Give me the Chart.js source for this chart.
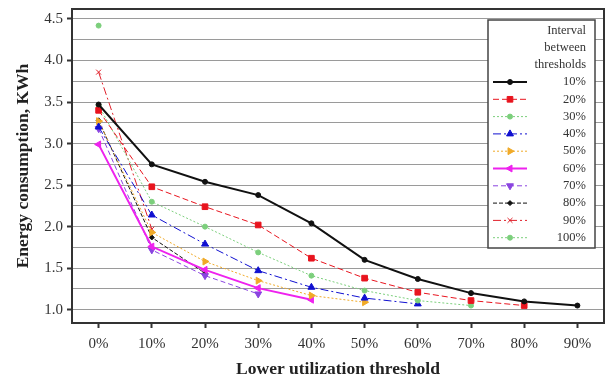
<!DOCTYPE html>
<html>
<head>
<meta charset="utf-8">
<script src="https://cdn.jsdelivr.net/npm/chart.js@4/dist/chart.umd.min.js"></script>
<style>
  body { margin: 0; background: #fff; }
  #wrap { width: 605px; height: 380px; }
</style>
</head>
<body>
<div id="wrap"><canvas id="energy-chart" width="605" height="380"></canvas></div>
<script>
var thresholds = ['0%', '10%', '20%', '30%', '40%', '50%', '60%', '70%', '80%', '90%'];
var intervals = ['10%', '20%', '30%', '40%', '50%', '60%', '70%', '80%', '90%', '100%'];

var int10  = [3.47, 2.75, 2.54, 2.38, 2.04, 1.60, 1.37, 1.20, 1.10, 1.05];
var int20  = [3.40, 2.48, 2.24, 2.02, 1.62, 1.38, 1.21, 1.11, 1.05];
var int30  = [3.46, 2.30, 2.00, 1.69, 1.41, 1.23, 1.11, 1.05];
var int40  = [3.20, 2.14, 1.79, 1.47, 1.27, 1.14, 1.07];
var int50  = [3.27, 1.93, 1.58, 1.35, 1.17, 1.09];
var int60  = [2.99, 1.76, 1.48, 1.26, 1.12];
var int70  = [3.18, 1.72, 1.41, 1.19];
var int80  = [3.28, 1.87, 1.44];
var int90  = [3.86, 1.97];
var int100 = [4.42];

var yGrid = [1.0, 1.25, 1.5, 1.75, 2.0, 2.25, 2.5, 2.75, 3.0, 3.25, 3.5, 3.75, 4.0, 4.25, 4.5];
var yLabelled = [1.0, 1.5, 2.0, 2.5, 3.0, 3.5, 4.0, 4.5];

var serif = "'Liberation Serif', 'DejaVu Serif', serif";

function series(label, data, color, dash, width, style, radius, rotation) {
    return {
        label: label,
        data: data,
        borderColor: color,
        backgroundColor: color,
        borderDash: dash,
        borderWidth: width,
        pointStyle: style,
        pointRadius: radius,
        pointRotation: rotation || 0,
        pointBorderWidth: 1,
        tension: 0,
        fill: false
    };
}

var datasets = [
    series(intervals[0], int10, '#111111', [], 2, 'circle', 2.5),
    series(intervals[1], int20, '#e8141e', [6, 3], 1, 'rect', 4),
    series(intervals[2], int30, '#7ccf7c', [2, 2], 1, 'circle', 2.5),
    series(intervals[3], int40, '#1010d0', [8, 3, 2, 3], 1, 'triangle', 4),
    series(intervals[4], int50, '#f0aa28', [2, 2], 1, 'triangle', 4, 90),
    series(intervals[5], int60, '#ee22ee', [], 2, 'triangle', 4, -90),
    series(intervals[6], int70, '#8a44e0', [5, 3], 1, 'triangle', 4, 180),
    series(intervals[7], int80, '#111111', [4, 2], 1, 'rectRot', 2.5),
    series(intervals[8], int90, '#e0202a', [8, 3, 2, 3], 1, 'crossRot', 3.5),
    series(intervals[9], int100, '#7ccf7c', [2, 2], 1, 'circle', 2.5)
];

var frame = {
    id: 'frame',
    afterDatasetsDraw: function(chart) {
        var ctx = chart.ctx, a = chart.chartArea;
        ctx.save();
        ctx.strokeStyle = '#333';
        ctx.lineWidth = 2;
        ctx.strokeRect(a.left, a.top, a.right - a.left, a.bottom - a.top);
        ctx.restore();
    }
};

var legendBox = {
    id: 'legendBox',
    afterDraw: function(chart) {
        var ctx = chart.ctx;
        var x0 = 488, y0 = 20, w = 107, h = 228;
        ctx.save();
        ctx.fillStyle = '#fff';
        ctx.fillRect(x0, y0, w, h);
        ctx.strokeStyle = '#444';
        ctx.lineWidth = 1.5;
        ctx.strokeRect(x0, y0, w, h);
        ctx.fillStyle = '#333';
        ctx.font = '12.5px ' + serif;
        ctx.textAlign = 'right';
        ctx.textBaseline = 'middle';
        var right = x0 + w - 9;
        ['Interval', 'between', 'thresholds'].forEach(function(t, i) {
            ctx.fillText(t, right, y0 + 11 + i * 17);
        });
        chart.data.datasets.forEach(function(ds, i) {
            var y = y0 + 62 + i * 17.3;
            ctx.save();
            ctx.strokeStyle = ds.borderColor;
            ctx.lineWidth = ds.borderWidth;
            ctx.setLineDash(ds.borderDash);
            ctx.beginPath();
            ctx.moveTo(x0 + 5, y);
            ctx.lineTo(x0 + 39, y);
            ctx.stroke();
            ctx.setLineDash([]);
            ctx.fillStyle = ds.backgroundColor;
            ctx.strokeStyle = ds.borderColor;
            ctx.lineWidth = 1;
            Chart.helpers.drawPoint(ctx, {
                pointStyle: ds.pointStyle,
                radius: ds.pointRadius,
                rotation: ds.pointRotation,
                borderWidth: 1
            }, x0 + 22, y);
            ctx.restore();
            ctx.fillStyle = '#333';
            ctx.fillText(ds.label, right, y);
        });
        ctx.restore();
    }
};

var ctx = document.getElementById('energy-chart').getContext('2d');
var chart = new Chart(ctx, {
    type: 'line',
    data: {
        labels: thresholds,
        datasets: datasets
    },
    options: {
        responsive: false,
        animation: false,
        layout: { autoPadding: false, padding: { top: 9, right: 1, left: 0, bottom: 0 } },
        plugins: {
            legend: { display: false },
            tooltip: { enabled: false }
        },
        scales: {
            x: {
                offset: true,
                afterFit: function(scale) {
                    scale.height = 57;
                    scale.paddingLeft = 0;
                    scale.paddingRight = 0;
                },
                grid: {
                    offset: false,
                    drawOnChartArea: false,
                    drawTicks: true,
                    tickLength: 5,
                    tickColor: '#333',
                    tickWidth: 2
                },
                border: { display: false },
                ticks: {
                    color: '#333',
                    padding: 7,
                    font: { family: serif, size: 15 }
                },
                title: {
                    display: true,
                    text: 'Lower utilization threshold',
                    color: '#222',
                    font: { family: serif, size: 17.5, weight: 'bold' },
                    padding: { top: 4, bottom: 0 }
                }
            },
            y: {
                min: 0.84,
                max: 4.62,
                afterFit: function(scale) {
                    scale.width = 72;
                    scale.paddingTop = 0;
                    scale.paddingBottom = 0;
                },
                afterBuildTicks: function(scale) {
                    scale.ticks = yGrid.map(function(v) { return { value: v }; });
                },
                grid: {
                    color: '#9a9a9a',
                    borderDash: [5, 3],
                    lineWidth: 1,
                    tickLength: 5,
                    tickColor: function(c) {
                        return c.tick && yLabelled.indexOf(c.tick.value) >= 0 ? '#333' : 'rgba(0,0,0,0)';
                    },
                    tickBorderDash: [],
                    tickWidth: 2
                },
                border: { display: false },
                ticks: {
                    color: '#333',
                    padding: 4,
                    font: { family: serif, size: 15 },
                    callback: function(v) {
                        return yLabelled.indexOf(v) >= 0 ? v.toFixed(1) : '';
                    }
                },
                title: {
                    display: true,
                    text: 'Energy consumption, KWh',
                    color: '#222',
                    font: { family: serif, size: 17.5, weight: 'bold' },
                    padding: { top: 13, bottom: 0 }
                }
            }
        }
    },
    plugins: [frame, legendBox]
});
</script>
</body>
</html>
